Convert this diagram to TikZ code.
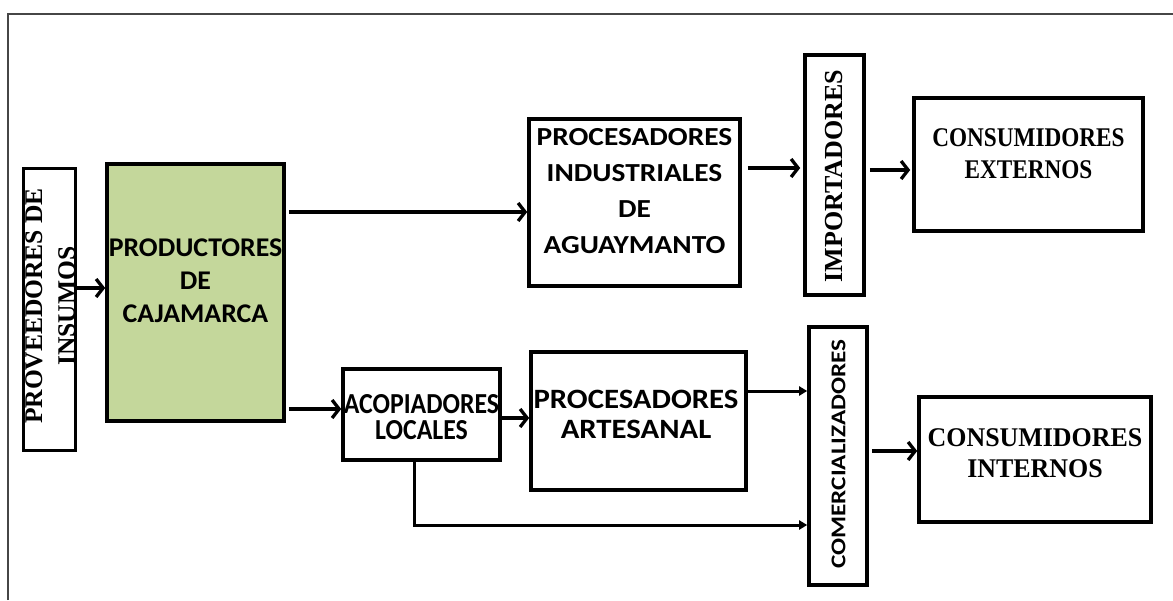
\documentclass[tikz,border=0pt]{standalone}
\usepackage{fontspec}
\usepackage{graphicx}
\usetikzlibrary{arrows.meta,calc}
\newfontfamily\sansf{Carlito}
\newfontfamily\seriff{Liberation Serif}
\newcommand{\hs}[2]{\scalebox{#1}[1]{#2}}
\newcommand{\mylines}[1]{\begin{tabular}{@{}c@{}}#1\end{tabular}}
\definecolor{prodgreen}{RGB}{196,215,155}
\definecolor{framegray}{RGB}{70,70,70}
\begin{document}
\begin{tikzpicture}[x=1pt,y=-1pt,
  box/.style={draw, line width=3.6pt, inner sep=0pt},
  txt/.style={inner sep=0pt, outer sep=0pt},
  arr/.style={line width=3.3pt, -{Straight Barb[length=7pt,width=18pt]}},
  arrs/.style={line width=3pt, -{Triangle[length=8pt,width=9pt]}}]
\useasboundingbox (0,0) rectangle (1173,600);
\fill[white] (0,0) rectangle (1173,600);
\draw[framegray, line width=1.5pt] (8,600) -- (8,14) -- (1173,14);

% boxes
\node[box, minimum width=52pt, minimum height=282pt] (prov) at (49.5,309.5) {};
\node[box, fill=prodgreen, minimum width=177pt, minimum height=257pt] (prod) at (195.5,292.5) {};
\node[box, minimum width=211pt, minimum height=167pt] (pi) at (634.5,202.5) {};
\node[box, minimum width=59pt, minimum height=240pt] (imp) at (834.5,175) {};
\node[box, minimum width=229pt, minimum height=133pt] (ce) at (1028.5,164.5) {};
\node[box, minimum width=157pt, minimum height=91pt] (acop) at (421.5,414.5) {};
\node[box, minimum width=215pt, minimum height=138pt] (art) at (638.5,421) {};
\node[box, minimum width=58pt, minimum height=258pt] (com) at (838,456) {};
\node[box, minimum width=232pt, minimum height=125pt] (ci) at (1035,459.5) {};

% texts
\node[txt, rotate=90] (prov-t) at (51.9,306) {\seriff\bfseries\fontsize{25.5}{33}\selectfont\mylines{PROVEEDORES DE\\INSUMOS}};
\node[txt] (prod-t) at (195.5,282.4) {\sansf\bfseries\fontsize{27}{33}\selectfont\hs{1.03}{\mylines{PRODUCTORES\\DE\\CAJAMARCA}}};
\node[txt] (pi-t) at (634.5,192.3) {\sansf\bfseries\fontsize{26}{36}\selectfont\hs{1.13}{\mylines{PROCESADORES\\INDUSTRIALES\\DE\\AGUAYMANTO}}};
\node[txt, rotate=90] (imp-t) at (834.5,176) {\seriff\bfseries\fontsize{26}{30}\selectfont IMPORTADORES};
\node[txt] (ce-t) at (1028.5,155.6) {\seriff\bfseries\fontsize{27}{32}\selectfont\hs{0.86}{\mylines{CONSUMIDORES\\EXTERNOS}}};
\node[txt] (acop-t) at (421.5,420.5) {\sansf\bfseries\fontsize{29}{25}\selectfont\hs{0.89}{\mylines{ACOPIADORES\\LOCALES}}};
\node[txt] (art-t) at (636,417) {\sansf\bfseries\fontsize{28}{30}\selectfont\hs{1.1}{\mylines{PROCESADORES\\ARTESANAL}}};
\node[txt, rotate=90] (com-t) at (838.5,454) {\sansf\bfseries\fontsize{21}{25}\selectfont\hs{1.2}{COMERCIALIZADORES}};
\node[txt] (ci-t) at (1035,455.3) {\seriff\bfseries\fontsize{27}{31}\selectfont\hs{0.96}{\mylines{CONSUMIDORES\\INTERNOS}}};

% connectors
\coordinate (a1) at ($(prod.west)+(0,-4.5)$);
\draw[arr] (prov.east |- a1) -- (a1);
\coordinate (a2) at ($(pi.west)+(0,9.5)$);
\draw[arr] ($(prod.east |- a2)+(3,0)$) -- (a2);
\coordinate (a3) at ($(imp.west)+(-3,-7)$);
\draw[arr] ($(pi.east |- a3)+(6,0)$) -- (a3);
\coordinate (a4) at ($(ce.west)+(-2,5.5)$);
\draw[arr] ($(imp.east |- a4)+(4,0)$) -- (a4);
\coordinate (a5) at ($(acop.west)+(0,-5.5)$);
\draw[arr] ($(prod.east |- a5)+(3,0)$) -- (a5);
\coordinate (a6) at ($(art.west)+(0,-3)$);
\draw[arr] (acop.east |- a6) -- (a6);
\coordinate (a7) at ($(com.west)+(0,-65)$);
\draw[arrs] (art.east |- a7) -- (a7);
\draw[arrs] ($(acop.south)+(-7.5,0)$) |- ($(com.west)+(0,69)$);
\coordinate (a9) at ($(ci.west)+(0,-8.5)$);
\draw[arr] ($(com.east |- a9)+(3,0)$) -- (a9);
\end{tikzpicture}
\end{document}
